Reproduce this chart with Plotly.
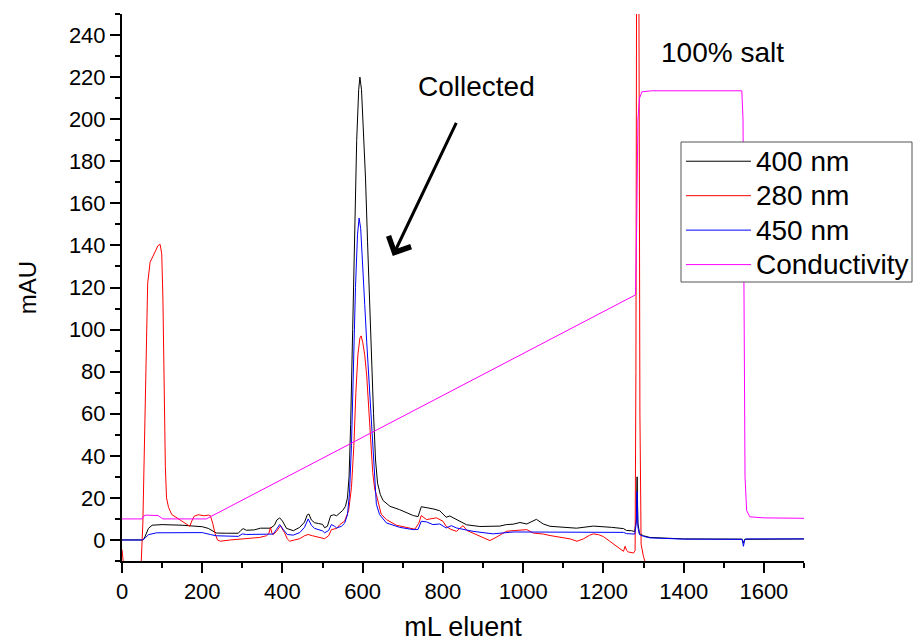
import plotly.graph_objects as go

# ---- data (mL eluent, mAU) ----
x400 = [0, 50, 55, 60, 66, 75, 100, 150, 177, 200, 215, 225, 235, 260, 290, 296, 302, 310, 330, 345, 370, 380, 386, 393, 400, 410, 427, 443, 455, 462, 466, 472, 480, 490, 500, 505, 512, 520, 528, 535, 543, 550, 557,
        562, 566, 570, 575, 580, 585, 590, 593, 597, 602, 607, 612, 617, 622, 627, 632, 637, 644, 651, 668, 692, 726, 738, 746, 759, 775, 792, 808, 817, 834, 859, 892, 942, 958, 975, 992, 1009, 1033, 1050, 1067, 1092, 1133, 1175, 1192, 1220, 1250, 1258, 1270, 1278, 1282, 1284, 1286, 1290, 1300, 1316, 1400, 1545, 1549, 1552, 1700]
y400 = [0, 0, 0.5, 3, 5.5, 7, 7.3, 7, 6.6, 6.3, 5.5, 4.3, 3.3, 3.2, 3.2, 4.5, 5.4, 4.6, 4.8, 5.6, 5.6, 7, 9.5, 10.5, 9, 5.5, 4.4, 6, 8.5, 12, 12.3, 9.5, 8.2, 7.8, 7.4, 5.8, 6.5, 11.5, 12, 11.5, 12.7, 14, 16,
        20, 30, 55, 100, 148, 190, 214, 220, 214, 196, 172, 142, 112, 85, 60, 38, 27, 21.5, 18.7, 16, 14.4, 11.6, 11.1, 15.8, 15.5, 14.8, 13.9, 10.8, 11.4, 9.6, 7.2, 6.4, 6.6, 7.3, 7.5, 8.3, 7.6, 9.8, 7.6, 6.5, 6.1, 5.6, 6.6, 6.5, 6, 5.4, 4.5, 4.4, 4, 10, 30, 8, 3, 2, 1.2, 0.5, 0.4, -1.5, 0.3, 0.5]

x280 = [0, 4, 46, 48, 52, 56, 60, 64, 70, 80, 90, 95, 99, 102, 105, 108, 111, 116, 124, 140, 155, 165, 169, 174, 180, 190, 205, 215, 220, 226, 232, 238, 245, 270, 293, 320, 343, 360, 366, 370, 374, 377, 385, 395, 405, 412, 418, 430, 443, 455, 464, 475, 493, 505, 515, 522, 535, 543, 555,
        565, 572, 578, 583, 588, 593, 596, 600, 605, 610, 615, 620, 625, 630, 634, 646, 659, 684, 717, 730, 740, 746, 759, 770, 784, 800, 808, 820, 834, 842, 850, 860, 875, 895, 917, 935, 958, 980, 1009, 1025, 1050, 1067, 1090, 1117, 1134, 1150, 1165, 1175, 1188, 1200, 1215, 1233, 1250, 1254, 1258, 1262, 1275, 1279, 1281, 1283, 1288, 1291, 1294, 1300, 1304, 1310]
y280 = [-4.6, -12, -12, -10, 8, 45, 95, 122, 132, 136, 140, 140.5, 136, 115, 70, 35, 20, 15.5, 12.1, 10.2, 8.5, 7, 6.5, 9, 11.3, 12, 11.5, 11.8, 11.6, 8, 3, 0, -0.6, 0, 0.3, 0.8, 1.2, 2, 3, 6, 3, 2.6, 4, 6.7, 3.5, 0.5, -0.6, 0, 0.6, 2, 2.6, 2, 1, 0.6, 2, 4.9, 5.5, 7.3, 9,
        14, 25, 45, 70, 88, 96, 97, 94, 88, 78, 62, 45, 32, 24, 21.6, 12.3, 9.7, 7, 5.7, 5.1, 8, 11.6, 9.7, 10, 10.5, 8.9, 6.5, 5, 4.1, 5.5, 6.8, 4.5, 3.3, 1.5, -0.3, 1.5, 4.1, 4.5, 4.9, 3.3, 2.8, 2.1, 1.5, 0.5, -0.6, 0.5, 2.2, 2.9, 2.5, 1.6, -0.5, -3, -5.4, -3, -5, -5.7, -6.2, -5, 80, 300, 300, 60, -2, -8, -11, -14]

x450 = [0, 52, 58, 66, 86, 150, 200, 220, 235, 290, 300, 310, 377, 385, 393, 402, 412, 427, 443, 455, 464, 472, 480, 500, 505, 515, 522, 530, 535, 547, 555,
        562, 567, 572, 577, 582, 587, 591, 595, 600, 605, 610, 615, 620, 625, 630, 634, 642, 659, 692, 726, 738, 746, 759, 775, 792, 808, 821, 834, 875, 925, 975, 1025, 1075, 1192, 1250, 1258, 1270, 1278, 1282, 1284, 1286, 1290, 1300, 1316, 1400, 1546, 1549, 1552, 1555, 1700]
y450 = [0, 0, 1, 2.5, 3.4, 3.6, 3.5, 2.6, 2.0, 1.7, 2.9, 2.6, 2.8, 5, 7.3, 5, 2.6, 2.3, 3.5, 6, 10, 7, 5.5, 4.3, 3.4, 4.5, 7.3, 6.5, 5.7, 6.5, 8,
        12, 22, 45, 85, 120, 145, 153, 148, 132, 112, 94, 78, 58, 40, 25, 17, 12.1, 8.1, 6.0, 4.9, 5, 8.9, 8.6, 7.3, 7.6, 5.7, 6.8, 5.7, 4.1, 2.9, 3.8, 3.8, 3.6, 3.8, 3.6, 3.0, 2.9, 2.8, 8, 23, 6, 2.5, 1.7, 1.0, 0.4, 0.3, -3, 0, 0.5, 0.5]

xcond = [0, 50, 55, 60, 90, 97, 102, 210, 1280, 1283, 1286, 1290, 1296, 1320, 1545, 1548, 1550, 1553, 1557, 1565, 1600, 1700]
ycond = [10, 10, 11.5, 11.8, 11.6, 10.5, 10, 10, 116.5, 150, 200, 210, 213, 213.5, 213.5, 200, 100, 30, 14, 11, 10.5, 10.3]

series = [
    ("400 nm", x400, y400, "#000000"),
    ("280 nm", x280, y280, "#FF0000"),
    ("450 nm", x450, y450, "#0000FF"),
    ("Conductivity", xcond, ycond, "#FF00FF"),
]

FONT = "Liberation Sans, Arial, sans-serif"

fig = go.Figure()
for name, xs, ys, col in series:
    fig.add_trace(go.Scatter(x=xs, y=ys, mode="lines",
                             name='<span style="font-size:28px">%s</span>' % name,
                             line=dict(color=col, width=1)))

axis_common = dict(
    showline=True, linecolor="black", linewidth=2,
    ticks="outside", ticklen=10, tickwidth=2, tickcolor="black",
    showgrid=False, zeroline=False, mirror=False, automargin=False,
    tickfont=dict(family=FONT, size=22, color="black"),
)

fig.update_xaxes(range=[0, 1700], tick0=0, dtick=200,
                 minor=dict(ticks="outside", ticklen=5, tickwidth=2, tickcolor="black", dtick=100, tick0=0),
                 title=dict(text="mL eluent", font=dict(family=FONT, size=27, color="black"), standoff=14),
                 **axis_common)
fig.update_yaxes(range=[-10, 250], tick0=0, dtick=20,
                 minor=dict(ticks="outside", ticklen=5, tickwidth=2, tickcolor="black", dtick=10, tick0=0),
                 title=dict(text="mAU", font=dict(family=FONT, size=24, color="black"), standoff=25),
                 **axis_common)

fig.add_annotation(x=675, y=135, ax=835, ay=199, xref="x", yref="y", axref="x", ayref="y",
                   showarrow=True, arrowhead=4, arrowwidth=3, arrowsize=1.6, arrowcolor="black", text="")
fig.add_annotation(x=884, y=215.6, xref="x", yref="y", text="Collected", showarrow=False,
                   font=dict(family=FONT, size=28, color="black"))
fig.add_annotation(x=1497, y=231.7, xref="x", yref="y", text="100% salt", showarrow=False,
                   font=dict(family=FONT, size=28, color="black"))

# legend frame (drawn as a paper-space box so its size matches the original)
fig.add_shape(type="rect", xref="paper", yref="paper",
              x0=(681 - 122) / 682, x1=(912 - 122) / 682,
              y0=(561 - 282) / 547, y1=(561 - 142) / 547,
              line=dict(color="#555555", width=1), fillcolor="white", layer="above")

fig.update_layout(
    width=915, height=643,
    margin=dict(l=122, r=111, t=14, b=82, autoexpand=False),
    paper_bgcolor="white", plot_bgcolor="white",
    showlegend=True,
    legend=dict(x=0.8196, y=0.7715, xanchor="left", yanchor="top",
                bgcolor="rgba(0,0,0,0)", borderwidth=0,
                font=dict(family=FONT, size=24.2, color="black"),
                itemwidth=65, tracegroupgap=0),
)

fig.write_html("out.html")
